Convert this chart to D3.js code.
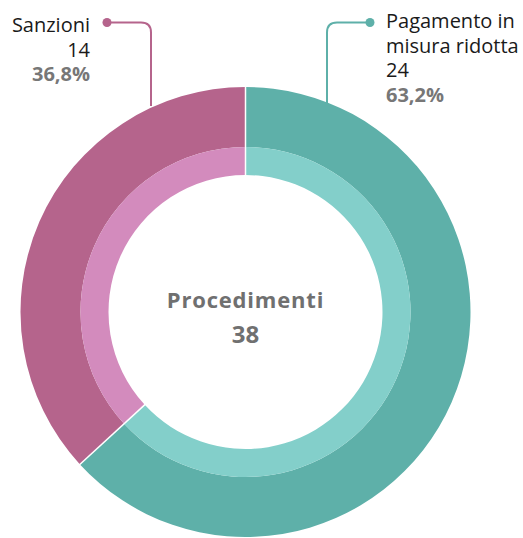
<!DOCTYPE html>
<html>
<head>
<meta charset="utf-8">
<script src="https://cdn.jsdelivr.net/npm/d3@7"></script>
<style>
  body { margin: 0; background: #fff; }
  svg { display: block; font-family: "Open Sans", Roboto, sans-serif; }
</style>
</head>
<body>
<svg id="chart"></svg>
<script>
// data
var categories = ["Pagamento in misura ridotta", "Sanzioni"];
var labelLines = [["Pagamento in", "misura ridotta"], ["Sanzioni"]];
var values = [24, 14];
var outerColors = ["#5eb0a9", "#b5648c"];
var innerColors = ["#83cfca", "#d38bbd"];
var centerTitle = "Procedimenti";

var width = 523, height = 538;
var cx = 245.5, cy = 312;
var rOuter = 225, rMid = 165, rInner = 137;

var total = d3.sum(values);
var fmtPct = function(v){ return (v / total * 100).toFixed(1).replace(".", ",") + "%"; };

var svg = d3.select("#chart")
    .attr("width", width)
    .attr("height", height);

var pie = d3.pie().sort(null).value(function(d){ return d; });
var arcs = pie(values);

var g = svg.append("g").attr("transform", "translate(" + cx + "," + cy + ")");

var outerArc = d3.arc().innerRadius(rMid).outerRadius(rOuter);
var innerArc = d3.arc().innerRadius(rInner).outerRadius(rMid);

g.selectAll("path.outer")
    .data(arcs)
  .enter().append("path")
    .attr("class", "outer")
    .attr("d", outerArc)
    .attr("fill", function(d, i){ return outerColors[i]; });

g.selectAll("path.inner")
    .data(arcs)
  .enter().append("path")
    .attr("class", "inner")
    .attr("d", innerArc)
    .attr("fill", function(d, i){ return innerColors[i]; });

// white separators between slices
arcs.forEach(function(a){
    var ang = a.startAngle;
    g.append("line")
	.attr("x1", Math.sin(ang) * (rInner - 1))
	.attr("y1", -Math.cos(ang) * (rInner - 1))
	.attr("x2", Math.sin(ang) * (rOuter + 1))
	.attr("y2", -Math.cos(ang) * (rOuter + 1))
	.attr("stroke", "#fff")
	.attr("stroke-width", 1.5);
});

// center label
g.append("text")
    .attr("text-anchor", "middle")
    .attr("y", -4)
    .attr("font-size", 22)
    .attr("font-weight", 700)
    .attr("letter-spacing", 0.8)
    .attr("fill", "#707070")
    .text(centerTitle);
g.append("text")
    .attr("text-anchor", "middle")
    .attr("y", 31)
    .attr("font-size", 24)
    .attr("font-weight", 700)
    .attr("fill", "#707070")
    .text(total);

// leader lines + labels
var leaders = [
    {dotX: 370, dotY: 22.5, vx: 327, endY: 121, side: "right"},
    {dotX: 107, dotY: 22.5, vx: 151, endY: 106, side: "left"}
];
var cr = 10;

leaders.forEach(function(L, i){
    var dir = L.vx > L.dotX ? 1 : -1;
    var p = d3.path();
    p.moveTo(L.dotX, L.dotY);
    p.lineTo(L.vx - dir * cr, L.dotY);
    p.quadraticCurveTo(L.vx, L.dotY, L.vx, L.dotY + cr);
    p.lineTo(L.vx, L.endY);
    svg.append("path")
	.attr("d", p.toString())
	.attr("fill", "none")
	.attr("stroke", outerColors[i])
	.attr("stroke-width", 2);
    svg.append("circle")
	.attr("cx", L.dotX)
	.attr("cy", L.dotY)
	.attr("r", 4.5)
	.attr("fill", outerColors[i]);

    var tx = L.side === "right" ? 386 : 90;
    var anchor = L.side === "right" ? "start" : "end";
    var lines = labelLines[i].concat([String(values[i])]);
    var y0 = L.side === "right" ? 28 : 32;
    var lh = 24.7;
    var t = svg.append("text")
	.attr("text-anchor", anchor)
	.attr("font-size", 20)
	.attr("fill", "#1a1a1a");
    lines.forEach(function(s, k){
	t.append("tspan").attr("x", tx).attr("y", y0 + k * lh).text(s);
    });
    svg.append("text")
	.attr("text-anchor", anchor)
	.attr("x", tx)
	.attr("y", y0 + lines.length * lh)
	.attr("font-size", 20)
	.attr("font-weight", 700)
	.attr("fill", "#777")
	.text(fmtPct(values[i]));
});
</script>
</body>
</html>
